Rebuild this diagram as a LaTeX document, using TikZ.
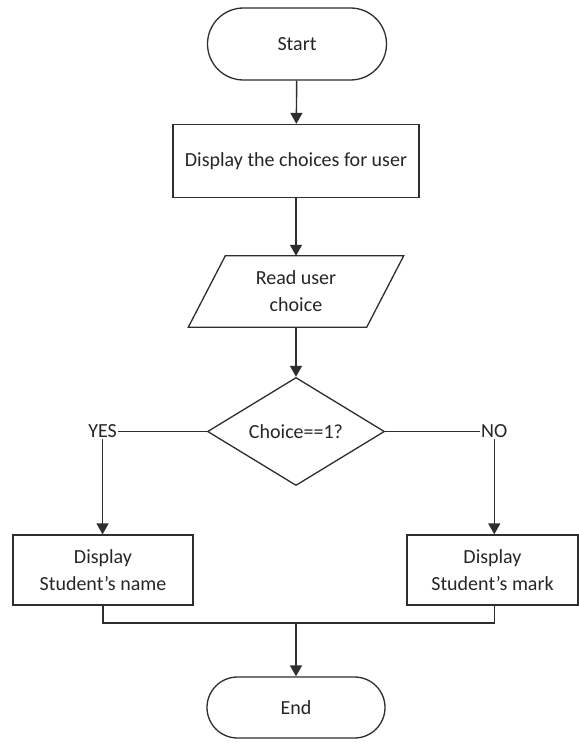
\documentclass[tikz,border=0pt]{standalone}
\usepackage{fontspec}
\setmainfont{Carlito}
\usetikzlibrary{shapes.geometric,shapes.misc,arrows.meta}
\definecolor{linecol}{HTML}{2E2E2E}
\definecolor{textcol}{HTML}{262626}
\begin{document}
\begin{tikzpicture}[x=1pt,y=-1pt,
  line/.style={draw=linecol, line width=1.4pt},
  arr/.style={line, -{Triangle[width=12pt,length=11pt]}},
  txt/.style={font=\fontsize{20}{27}\selectfont, text=textcol, align=center},
  term/.style={txt, rounded rectangle, draw=linecol, line width=1.3pt, inner sep=0pt},
  proc/.style={txt, rectangle, draw=linecol, line width=1.3pt, inner sep=0pt},
  decide/.style={txt, diamond, draw=linecol, line width=1.3pt, inner sep=0pt},
  lbl/.style={txt, inner sep=1pt}]
\useasboundingbox (0,0) rectangle (578,749);
\fill[white] (0,0) rectangle (578,749);
% nodes
\node[term, minimum width=179pt, minimum height=72pt] (start) at (297,44) {Start};
\node[proc, minimum width=246pt, minimum height=73pt] (show) at (296,161) {Display the choices for user};
\node[txt, minimum width=215pt, minimum height=71pt, inner sep=0pt] (read) at (296,291.5) {Read user\\choice};
\draw[line, line width=1.3pt] ([xshift=37pt]read.north west) -- (read.north east)
   -- ([xshift=-37pt]read.south east) -- (read.south west) -- cycle;
\node[decide, minimum width=177pt, minimum height=105pt] (dec) at (296,431.5) {Choice==1?};
\node[lbl, anchor=east] (yes) at (118,431.5) {YES};
\node[lbl, anchor=west] (no) at (480,431.5) {NO};
\node[proc, minimum width=180pt, minimum height=70pt] (name) at (103,570) {Display\\Student’s name};
\node[proc, minimum width=171pt, minimum height=70pt] (mark) at (492.5,570) {Display\\Student’s mark};
\node[term, minimum width=178pt, minimum height=61pt] (finish) at (296,707.5) {End};
\coordinate (merge) at (296,623);
% connectors
\draw[arr] (start) -- (show);
\draw[arr] (show) -- (show.south |- read.north);
\draw[arr] (read.south -| dec.north) -- (dec.north);
\draw[line] (dec.west) -- (yes.east);
\draw[line] (dec.east) -- (no.west);
\draw[arr] (yes.south) -- (yes.south |- name.north);
\draw[arr] (no.south) -- (no.south |- mark.north);
\draw[line] (name.south) -- (name.south |- merge) -- (merge -| no) -- (no |- mark.south);
\draw[arr] (merge) -- (finish.north);
\end{tikzpicture}
\end{document}
